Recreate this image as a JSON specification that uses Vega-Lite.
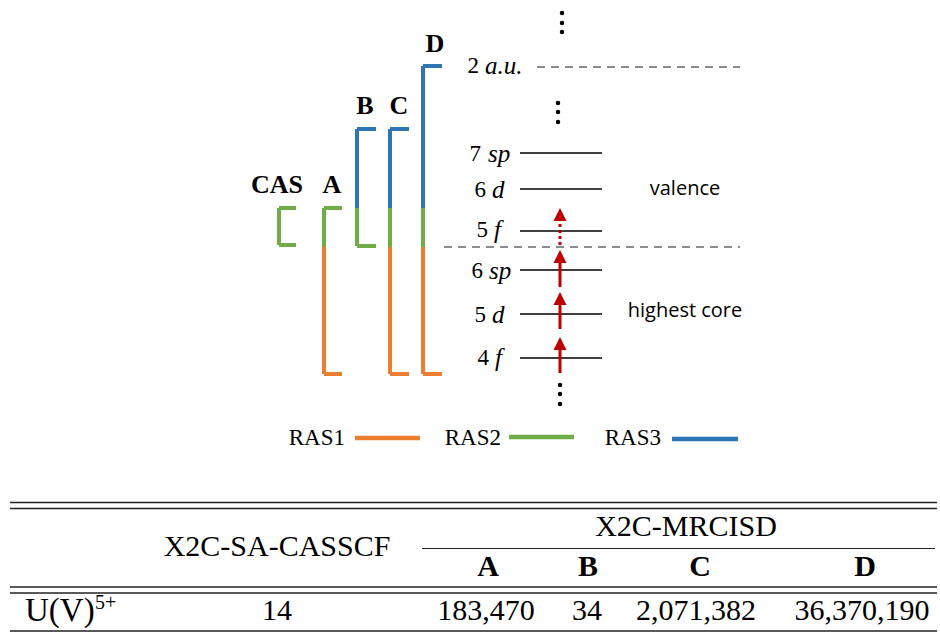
{
  "$schema": "https://vega.github.io/schema/vega-lite/v6.json",
  "width": 940,
  "height": 635,
  "padding": 0,
  "autosize": {"type": "fit", "contains": "padding"},
  "background": "white",
  "config": {"view": {"stroke": null}},
  "datasets": {
    "brackets": [
      {"x": 279, "y": 208, "x2": 279, "y2": 245, "ras": "RAS2"},
      {"x": 279, "y": 208, "x2": 296, "y2": 208, "ras": "RAS2"},
      {"x": 279, "y": 245, "x2": 296, "y2": 245, "ras": "RAS2"},
      {"x": 324, "y": 208, "x2": 324, "y2": 247, "ras": "RAS2"},
      {"x": 324, "y": 208, "x2": 342, "y2": 208, "ras": "RAS2"},
      {"x": 324, "y": 247, "x2": 324, "y2": 374, "ras": "RAS1"},
      {"x": 324, "y": 374, "x2": 342, "y2": 374, "ras": "RAS1"},
      {"x": 357, "y": 129, "x2": 357, "y2": 208, "ras": "RAS3"},
      {"x": 357, "y": 129, "x2": 376, "y2": 129, "ras": "RAS3"},
      {"x": 357, "y": 208, "x2": 357, "y2": 246, "ras": "RAS2"},
      {"x": 357, "y": 246, "x2": 376, "y2": 246, "ras": "RAS2"},
      {"x": 390, "y": 129, "x2": 390, "y2": 208, "ras": "RAS3"},
      {"x": 390, "y": 129, "x2": 409, "y2": 129, "ras": "RAS3"},
      {"x": 390, "y": 208, "x2": 390, "y2": 247, "ras": "RAS2"},
      {"x": 390, "y": 247, "x2": 390, "y2": 374, "ras": "RAS1"},
      {"x": 390, "y": 374, "x2": 409, "y2": 374, "ras": "RAS1"},
      {"x": 423, "y": 66, "x2": 423, "y2": 208, "ras": "RAS3"},
      {"x": 423, "y": 66, "x2": 442, "y2": 66, "ras": "RAS3"},
      {"x": 423, "y": 208, "x2": 423, "y2": 247, "ras": "RAS2"},
      {"x": 423, "y": 247, "x2": 423, "y2": 374, "ras": "RAS1"},
      {"x": 423, "y": 374, "x2": 442, "y2": 374, "ras": "RAS1"}
    ],
    "legendLines": [
      {"x": 355, "x2": 420, "y": 438, "ras": "RAS1"},
      {"x": 509, "x2": 574, "y": 437, "ras": "RAS2"},
      {"x": 672, "x2": 738, "y": 439, "ras": "RAS3"}
    ],
    "legendText": [
      {"x": 345, "y": 438, "t": "RAS1"},
      {"x": 501, "y": 438, "t": "RAS2"},
      {"x": 661, "y": 438, "t": "RAS3"}
    ],
    "levels": [
      {"x": 520, "x2": 602, "y": 153},
      {"x": 520, "x2": 602, "y": 189},
      {"x": 520, "x2": 602, "y": 231},
      {"x": 520, "x2": 602, "y": 270},
      {"x": 520, "x2": 602, "y": 314},
      {"x": 520, "x2": 602, "y": 358}
    ],
    "dashed": [
      {"x": 537, "x2": 740, "y": 67},
      {"x": 444, "x2": 740, "y": 247}
    ],
    "shafts": [
      {"x": 560, "y": 373, "y2": 349},
      {"x": 560, "y": 329, "y2": 304},
      {"x": 560, "y": 287, "y2": 262}
    ],
    "dottedShafts": [
      {"x": 560, "y": 245, "y2": 221}
    ],
    "heads": [
      {"x": 560, "y": 343.5},
      {"x": 560, "y": 298.5},
      {"x": 560, "y": 256.5},
      {"x": 560, "y": 214.5}
    ],
    "dots": [
      {"x": 562, "y": 13}, {"x": 562, "y": 23}, {"x": 562, "y": 32},
      {"x": 558, "y": 103}, {"x": 558, "y": 112}, {"x": 558, "y": 122},
      {"x": 560, "y": 385}, {"x": 560, "y": 394}, {"x": 560, "y": 404}
    ],
    "boldLabels": [
      {"x": 277, "y": 185, "t": "CAS"},
      {"x": 332, "y": 185, "t": "A"},
      {"x": 365, "y": 106, "t": "B"},
      {"x": 399, "y": 106, "t": "C"},
      {"x": 435, "y": 44, "t": "D"}
    ],
    "levelNums": [
      {"x": 479, "y": 66, "t": "2"},
      {"x": 481, "y": 154, "t": "7"},
      {"x": 486, "y": 190, "t": "6"},
      {"x": 488, "y": 230, "t": "5"},
      {"x": 483, "y": 271, "t": "6"},
      {"x": 486, "y": 315, "t": "5"},
      {"x": 489, "y": 358, "t": "4"}
    ],
    "levelLetters": [
      {"x": 485, "y": 66, "t": "a.u."},
      {"x": 488, "y": 154, "t": "sp"},
      {"x": 492, "y": 190, "t": "d"},
      {"x": 494, "y": 230, "t": "f"},
      {"x": 489, "y": 271, "t": "sp"},
      {"x": 492, "y": 315, "t": "d"},
      {"x": 495, "y": 358, "t": "f"}
    ],
    "sansLabels": [
      {"x": 685, "y": 189, "t": "valence"},
      {"x": 685, "y": 311, "t": "highest core"}
    ],
    "tableRules": [
      {"x": 10, "x2": 937, "y": 502.5},
      {"x": 10, "x2": 937, "y": 508.5},
      {"x": 10, "x2": 937, "y": 587},
      {"x": 10, "x2": 937, "y": 593},
      {"x": 10, "x2": 937, "y": 631}
    ],
    "cmid": [
      {"x": 422, "x2": 935, "y": 548.5}
    ],
    "tableText": [
      {"x": 277, "y": 547, "t": "X2C-SA-CASSCF"},
      {"x": 686, "y": 527, "t": "X2C-MRCISD"},
      {"x": 277, "y": 611, "t": "14"},
      {"x": 486, "y": 611, "t": "183,470"},
      {"x": 587, "y": 611, "t": "34"},
      {"x": 696, "y": 611, "t": "2,071,382"},
      {"x": 862, "y": 611, "t": "36,370,190"}
    ],
    "tableBold": [
      {"x": 488, "y": 567, "t": "A"},
      {"x": 588, "y": 567, "t": "B"},
      {"x": 700, "y": 567, "t": "C"},
      {"x": 865, "y": 567, "t": "D"}
    ],
    "rowLabel": [
      {"x": 25, "y": 611, "t": "U(V)"}
    ],
    "rowSup": [
      {"x": 95, "y": 603, "t": "5+"}
    ]
  },
  "encoding": {
    "x": {"field": "x", "type": "quantitative", "scale": {"domain": [0, 940], "nice": false, "zero": false}, "axis": null},
    "y": {"field": "y", "type": "quantitative", "scale": {"domain": [0, 635], "nice": false, "zero": false, "reverse": true}, "axis": null}
  },
  "layer": [
    {
      "data": {"name": "dashed"},
      "mark": {"type": "rule", "stroke": "#8c8c8c", "strokeWidth": 2, "strokeDash": [8, 6]},
      "encoding": {"x2": {"field": "x2"}}
    },
    {
      "data": {"name": "levels"},
      "mark": {"type": "rule", "stroke": "#404040", "strokeWidth": 2},
      "encoding": {"x2": {"field": "x2"}}
    },
    {
      "data": {"name": "brackets"},
      "mark": {"type": "rule", "strokeWidth": 4, "strokeCap": "butt"},
      "encoding": {
        "x2": {"field": "x2"},
        "y2": {"field": "y2"},
        "color": {"field": "ras", "type": "nominal", "scale": {"domain": ["RAS1", "RAS2", "RAS3"], "range": ["#ED7D31", "#70AD47", "#2E75B6"]}, "legend": null}
      }
    },
    {
      "data": {"name": "legendLines"},
      "mark": {"type": "rule", "strokeWidth": 4.5},
      "encoding": {
        "x2": {"field": "x2"},
        "color": {"field": "ras", "type": "nominal", "legend": null}
      }
    },
    {
      "data": {"name": "legendText"},
      "mark": {"type": "text", "font": "Liberation Serif", "fontSize": 23, "align": "right", "baseline": "middle", "color": "black"},
      "encoding": {"text": {"field": "t"}}
    },
    {
      "data": {"name": "shafts"},
      "mark": {"type": "rule", "stroke": "#C00000", "strokeWidth": 3},
      "encoding": {"y2": {"field": "y2"}}
    },
    {
      "data": {"name": "dottedShafts"},
      "mark": {"type": "rule", "stroke": "#C00000", "strokeWidth": 3, "strokeDash": [3, 3]},
      "encoding": {"y2": {"field": "y2"}}
    },
    {
      "data": {"name": "heads"},
      "mark": {"type": "point", "shape": "M0,-1L1,1L-1,1Z", "filled": true, "size": 169, "color": "#C00000", "opacity": 1, "strokeWidth": 0}
    },
    {
      "data": {"name": "dots"},
      "mark": {"type": "point", "shape": "circle", "filled": true, "size": 20, "color": "black", "opacity": 1, "strokeWidth": 0}
    },
    {
      "data": {"name": "boldLabels"},
      "mark": {"type": "text", "font": "Liberation Serif", "fontSize": 26, "fontWeight": "bold", "align": "center", "baseline": "middle", "color": "black"},
      "encoding": {"text": {"field": "t"}}
    },
    {
      "data": {"name": "levelNums"},
      "mark": {"type": "text", "font": "Liberation Serif", "fontSize": 23, "align": "right", "baseline": "middle", "color": "black"},
      "encoding": {"text": {"field": "t"}}
    },
    {
      "data": {"name": "levelLetters"},
      "mark": {"type": "text", "font": "Liberation Serif", "fontSize": 25, "fontStyle": "italic", "align": "left", "baseline": "middle", "color": "black"},
      "encoding": {"text": {"field": "t"}}
    },
    {
      "data": {"name": "sansLabels"},
      "mark": {"type": "text", "font": "Open Sans", "fontSize": 20, "align": "center", "baseline": "middle", "color": "black"},
      "encoding": {"text": {"field": "t"}}
    },
    {
      "data": {"name": "tableRules"},
      "mark": {"type": "rule", "stroke": "#222222", "strokeWidth": 1.5},
      "encoding": {"x2": {"field": "x2"}}
    },
    {
      "data": {"name": "cmid"},
      "mark": {"type": "rule", "stroke": "#222222", "strokeWidth": 1.2},
      "encoding": {"x2": {"field": "x2"}}
    },
    {
      "data": {"name": "tableText"},
      "mark": {"type": "text", "font": "Liberation Serif", "fontSize": 30, "align": "center", "baseline": "middle", "color": "black"},
      "encoding": {"text": {"field": "t"}}
    },
    {
      "data": {"name": "tableBold"},
      "mark": {"type": "text", "font": "Liberation Serif", "fontSize": 30, "fontWeight": "bold", "align": "center", "baseline": "middle", "color": "black"},
      "encoding": {"text": {"field": "t"}}
    },
    {
      "data": {"name": "rowLabel"},
      "mark": {"type": "text", "font": "Liberation Serif", "fontSize": 33, "align": "left", "baseline": "middle", "color": "black"},
      "encoding": {"text": {"field": "t"}}
    },
    {
      "data": {"name": "rowSup"},
      "mark": {"type": "text", "font": "Liberation Serif", "fontSize": 20, "align": "left", "baseline": "middle", "color": "black"},
      "encoding": {"text": {"field": "t"}}
    }
  ]
}
